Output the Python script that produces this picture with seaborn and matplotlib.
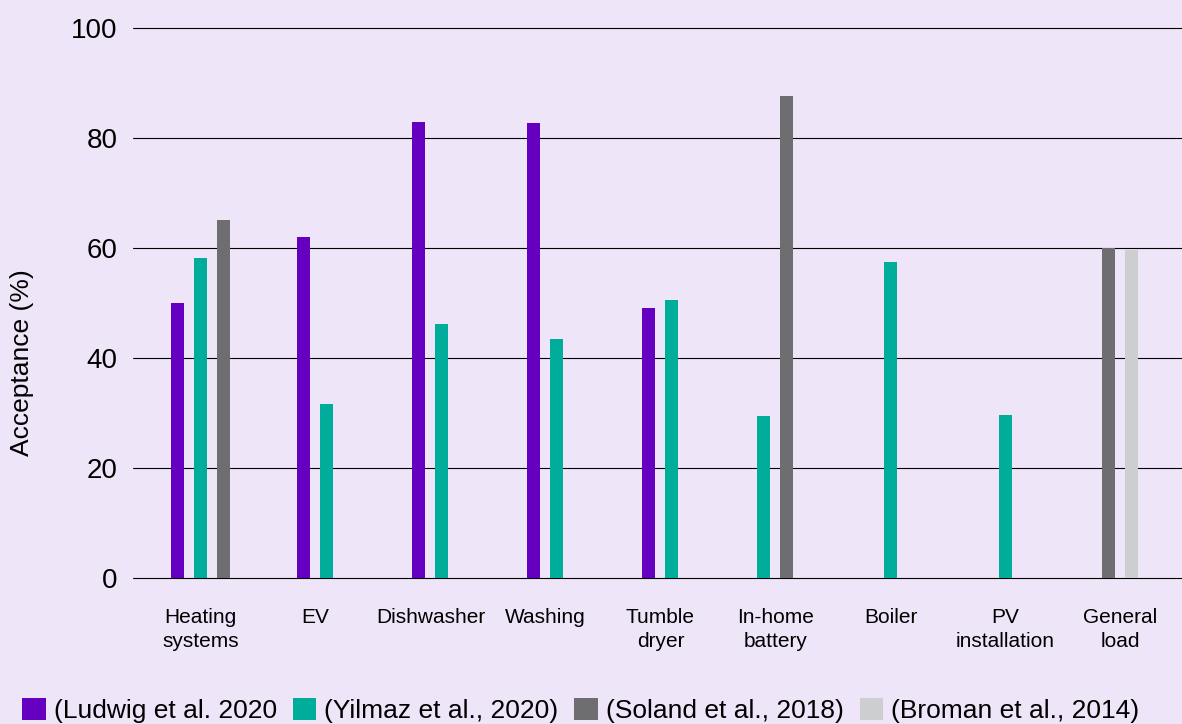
import numpy as np
import pandas as pd
import matplotlib
matplotlib.use("Agg")
import matplotlib.pyplot as plt
import seaborn as sns
from matplotlib.patches import Patch

# Data
categories = ["Heating\nsystems", "EV", "Dishwasher", "Washing", "Tumble\ndryer",
              "In-home\nbattery", "Boiler", "PV\ninstallation", "General\nload"]
series = ["(Ludwig et al. 2020", "(Yilmaz et al., 2020)",
          "(Soland et al., 2018)", "(Broman et al., 2014)"]
ludwig = [50, 62, 83, 82.7, 49, None, None, None, None]
yilmaz = [58.2, 31.7, 46.2, 43.5, 50.5, 29.5, 57.5, 29.7, None]
soland = [65.1, None, None, None, None, 87.7, None, None, 60]
broman = [None, None, None, None, None, None, None, None, 59.6]

colors = ["#6600C0", "#00AD9A", "#6E6E70", "#CCCED0"]
bg = "#EFE5F8"

# long table, only present values; bars centred inside each category
rows = []
for i, cat in enumerate(categories):
    vals = [ludwig[i], yilmaz[i], soland[i], broman[i]]
    present = [j for j, v in enumerate(vals) if v is not None]
    n = len(present)
    for k, j in enumerate(present):
        rows.append({"pos": i + (k - (n - 1) / 2) * 0.2,
                     "value": vals[j], "study": series[j]})
df = pd.DataFrame(rows)

sns.set_style("white")
plt.rcParams["font.family"] = ["Liberation Sans", "DejaVu Sans"]
plt.rcParams["text.color"] = "black"
plt.rcParams["axes.labelcolor"] = "black"
plt.rcParams["xtick.color"] = "black"
plt.rcParams["ytick.color"] = "black"

fig = plt.figure(figsize=(11.82, 7.24), dpi=100, facecolor=bg)
ax = fig.add_axes([0.1125, 0.2017, 0.8875, 0.7596])
ax.set_facecolor(bg)

sns.barplot(data=df, x="pos", y="value", hue="study", hue_order=series,
            palette=colors, native_scale=True, dodge=False, width=0.565,
            saturation=1, legend=False, linewidth=0, ax=ax, zorder=3)

ax.set_ylim(0, 100)
ax.set_yticks(range(0, 101, 20))
ax.set_xlim(-0.587, 8.535)
ax.set_xticks(range(len(categories)))
ax.set_xticklabels(categories, fontsize=15, linespacing=1.35)
ax.tick_params(axis="x", length=0, pad=21.5)
ax.tick_params(axis="y", length=0, pad=11, labelsize=20)
ax.yaxis.grid(True, color="black", linewidth=0.8, zorder=0)
ax.set_axisbelow(True)
for gl in ax.get_ygridlines():
    gl.set_clip_on(False)
for s in ax.spines.values():
    s.set_visible(False)

ax.set_xlabel("")
ax.set_ylabel("")
fig.text(22 / 1182, 1 - 363 / 724, "Acceptance (%)", rotation=90,
         ha="center", va="center", fontsize=19)

handles = [Patch(facecolor=c, edgecolor="none") for c in colors]
fig.legend(handles, series, loc="lower left", bbox_to_anchor=(0.0186, 0.001),
           ncol=4, frameon=False, fontsize=19, borderpad=0, borderaxespad=0,
           handlelength=0.9, handleheight=0.9, handletextpad=0.3,
           columnspacing=0.6)

fig.savefig("out.png", dpi=100, facecolor=bg)
